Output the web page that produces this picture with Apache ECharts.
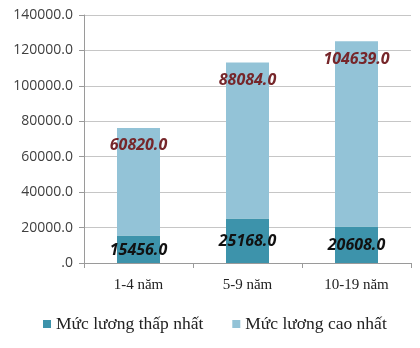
<!DOCTYPE html>
<html>
    <head>
        <meta charset="utf-8">
        <script src="https://cdn.jsdelivr.net/npm/echarts@6.0.0/dist/echarts.min.js"></script>
    </head>
    <body style="margin:0;background:#fff">
        <div id="main" style="width: 420px; height: 348px;"></div>
        <script>
            var categories = ['1-4 năm', '5-9 năm', '10-19 năm'];
            var seriesNames = ['Mức lương thấp nhất', 'Mức lương cao nhất'];
            var lowValues = [15456.0, 25168.0, 20608.0];
            var highValues = [60820.0, 88084.0, 104639.0];

            var chartDom = document.getElementById('main');
            var myChart = echarts.init(chartDom);

            var labelFont = {
                fontFamily: 'Open Sans',
                fontStyle: 'italic',
                fontWeight: 'bold',
                fontSize: 16
            };

            var option = {
                animation: false,
                grid: { left: 84, right: 9, top: 15, bottom: 85 },
                legend: {
                    bottom: 10,
                    left: 38,
                    itemWidth: 8,
                    itemHeight: 8,
                    itemGap: 29,
                    icon: 'rect',
                    textStyle: { fontFamily: 'Liberation Serif', fontSize: 17.5, color: '#222' },
                    data: seriesNames
                },
                xAxis: {
                    type: 'category',
                    data: categories,
                    axisLine: { lineStyle: { color: '#9a9a9a' } },
                    axisTick: { show: true, alignWithLabel: false, length: 5, lineStyle: { color: '#9a9a9a' } },
                    axisLabel: { fontFamily: 'Liberation Serif', fontSize: 15, color: '#222', margin: 15 }
                },
                yAxis: {
                    type: 'value',
                    min: 0,
                    max: 140000,
                    interval: 20000,
                    axisLine: { show: true, lineStyle: { color: '#9a9a9a' } },
                    axisTick: { show: true, length: 5, lineStyle: { color: '#9a9a9a' } },
                    splitLine: { lineStyle: { color: '#c6c6c6' } },
                    axisLabel: {
                        fontFamily: 'Open Sans',
                        fontSize: 14,
                        color: '#404040',
                        margin: 11,
                        formatter: function (v) {
                            return v === 0 ? '.0' : v.toFixed(1);
                        }
                    }
                },
                series: [
                    {
                        name: seriesNames[0],
                        type: 'bar',
                        stack: 'total',
                        barWidth: 43,
                        data: lowValues,
                        itemStyle: { color: '#3d93ab' },
                        label: Object.assign({
                            show: true,
                            position: 'inside',
                            offset: [0, 1],
                            color: '#111',
                            formatter: function (p) { return p.value.toFixed(1); }
                        }, labelFont)
                    },
                    {
                        name: seriesNames[1],
                        type: 'bar',
                        stack: 'total',
                        barWidth: 43,
                        data: highValues,
                        itemStyle: { color: '#93c3d7' },
                        label: Object.assign({
                            show: true,
                            position: 'insideTop',
                            distance: 10,
                            color: '#76262a',
                            formatter: function (p) { return p.value.toFixed(1); }
                        }, labelFont)
                    }
                ]
            };

            myChart.setOption(option);
        </script>
    </body>
</html>
